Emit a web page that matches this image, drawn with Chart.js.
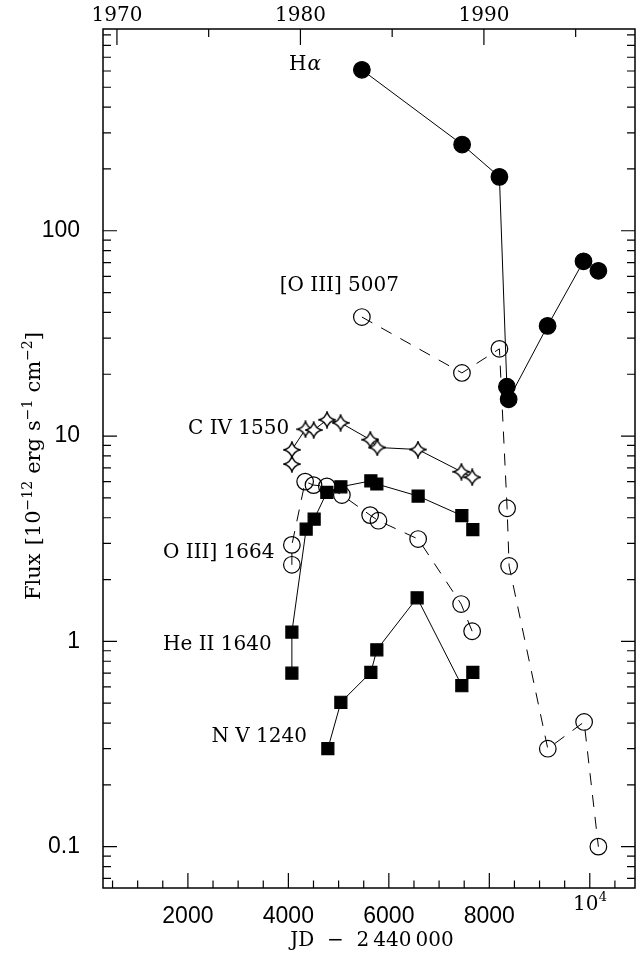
<!DOCTYPE html>
<html><head><meta charset="utf-8">
<script src="https://cdn.jsdelivr.net/npm/chart.js@4.4.0/dist/chart.umd.min.js"></script>
<style>html,body{margin:0;padding:0;background:#fff}canvas{display:block}</style>
</head><body>
<canvas id="c" width="641" height="956"></canvas>
<script>
// ---- data (JD - 2440000, flux in 1e-12 erg s^-1 cm^-2) ----
const haJD    = [5463, 7459, 8201, 8350, 8385, 9160, 9875, 10171];
const haFlux  = [608, 263, 183, 17.4, 15.1, 34.4, 71, 63.8];
const o5007JD   = [5463, 7455, 8201, 8354, 8394, 9164, 9887, 10171];
const o5007Flux = [38, 20.3, 26.6, 4.45, 2.33, 0.30, 0.405, 0.10];
const civJD   = [4070, 4070, 4340, 4505, 4770, 5040, 5630, 5770, 6580, 7445, 7660];
const civFlux = [7.3, 8.57, 10.8, 10.7, 12.0, 11.6, 9.6, 8.8, 8.6, 6.7, 6.3];
const o1664JD   = [4070, 4070, 4334, 4500, 4766, 5065, 5628, 5793, 6583, 7439, 7658];
const o1664Flux = [2.36, 2.95, 6.0, 5.77, 5.69, 5.16, 4.12, 3.87, 3.15, 1.52, 1.12];
const heiiJD   = [4070, 4070, 4354, 4513, 4766, 5045, 5642, 5761, 6583, 7453, 7672];
const heiiFlux = [0.70, 1.11, 3.52, 3.94, 5.32, 5.66, 6.05, 5.84, 5.1, 4.1, 3.5];
const nvJD   = [4786, 5045, 5642, 5761, 6563, 7453, 7672];
const nvFlux = [0.30, 0.505, 0.706, 0.91, 1.63, 0.608, 0.706];

const xTicks = [2000, 4000, 6000, 8000, 10000];
const yTicks = [0.1, 1, 10, 100];
const yearLabels = [1970, 1980, 1990];
const yearTickYears = [1970, 1975, 1980, 1985, 1990, 1995];
const seriesLabels = ['H', '[O III] 5007', 'C IV 1550', 'O III] 1664', 'He II 1640', 'N V 1240'];

function yearToJD(y){ return 587.5 + (y - 1970) * 365.25; }
function pts(xs, ys){ return xs.map((x,i)=>({x:x, y:ys[i]})); }

function makeStar(){
  const s = 18, c = document.createElement('canvas'); c.width = s; c.height = s;
  const g = c.getContext('2d'); const m = 9, r = 8, k = 1.6;
  g.strokeStyle = '#000'; g.lineWidth = 1.3;
  g.beginPath();
  g.moveTo(m, m - r);
  g.quadraticCurveTo(m + k, m - k, m + r, m);
  g.quadraticCurveTo(m + k, m + k, m, m + r);
  g.quadraticCurveTo(m - k, m + k, m - r, m);
  g.quadraticCurveTo(m - k, m - k, m, m - r);
  g.closePath(); g.fillStyle = '#fff'; g.fill(); g.stroke();
  return c;
}
const star = makeStar();

const SERIF = '"DejaVu Serif", serif';
const SANS = '"Liberation Sans", Arial, sans-serif';

const base = {borderColor:'#000', borderWidth:1, tension:0, pointBorderColor:'#000', pointBorderWidth:1.2};
const datasets = [
  Object.assign({}, base, {label:'Ha', data:pts(haJD, haFlux), pointStyle:'circle', pointRadius:8.3, pointBackgroundColor:'#000'}),
  Object.assign({}, base, {label:'OIII5007', data:pts(o5007JD, o5007Flux), borderDash:[12,10], pointStyle:'circle', pointRadius:8.3, pointBackgroundColor:'rgba(0,0,0,0)'}),
  Object.assign({}, base, {label:'CIV', data:pts(civJD, civFlux), pointStyle:star, pointRadius:7}),
  Object.assign({}, base, {label:'OIII1664', data:pts(o1664JD, o1664Flux), borderDash:[12,10], pointStyle:'circle', pointRadius:8.3, pointBackgroundColor:'rgba(0,0,0,0)'}),
  Object.assign({}, base, {label:'HeII', data:pts(heiiJD, heiiFlux), pointStyle:'rect', pointRadius:8.5, pointBackgroundColor:'#000'}),
  Object.assign({}, base, {label:'NV', data:pts(nvJD, nvFlux), pointStyle:'rect', pointRadius:8.5, pointBackgroundColor:'#000'})
];

// rich text: segments drawn along baseline, centred at (0,0) of current transform
function richText(c, segs){
  let w = 0;
  segs.forEach(s => { c.font = s.size + 'px ' + SERIF; s.w = c.measureText(s.t).width; w += s.w + (s.gap || 0); });
  let x = -w / 2;
  c.textAlign = 'left'; c.textBaseline = 'alphabetic';
  segs.forEach(s => { c.font = s.size + 'px ' + SERIF; c.fillText(s.t, x, 7 - (s.rise || 0)); x += s.w + (s.gap || 0); });
}

const decor = {
  id:'decor',
  afterDraw(chart){
    const c = chart.ctx, a = chart.chartArea, sx = chart.scales.x, sy = chart.scales.y;
    c.save();
    c.strokeStyle = '#000'; c.lineWidth = 1.5;
    c.strokeRect(a.left, a.top, a.right - a.left, a.bottom - a.top);
    c.lineWidth = 1.2;
    c.beginPath();
    for (let v = 500; v <= 10500; v += 500) {
      const px = sx.getPixelForValue(v), L = (v % 2000 === 0) ? 15 : 7.5;
      c.moveTo(px, a.bottom); c.lineTo(px, a.bottom - L);
    }
    yearTickYears.forEach(y => {
      const px = sx.getPixelForValue(yearToJD(y)), L = (y % 10 === 0) ? 16 : 8;
      c.moveTo(px, a.top); c.lineTo(px, a.top + L);
    });
    for (let e = -2; e <= 2; e++) {
      for (let k = 1; k <= 9; k++) {
        const v = k * Math.pow(10, e);
        if (v < sy.min || v > sy.max) continue;
        const py = sy.getPixelForValue(v), L = (k === 1) ? 14 : 8;
        c.moveTo(a.left, py); c.lineTo(a.left + L, py);
        c.moveTo(a.right, py); c.lineTo(a.right - L, py);
      }
    }
    c.stroke();

    c.fillStyle = '#000'; c.textBaseline = 'middle';
    const p4 = sx.getPixelForValue(10000);
    c.font = '20px ' + SERIF; c.textAlign = 'center';
    c.fillText('10', p4 - 4, 905);
    c.font = '13px ' + SERIF; c.textAlign = 'left';
    c.fillText('4', p4 + 9, 898);

    c.font = '20px ' + SERIF; c.textAlign = 'left';
    c.fillText(seriesLabels[0], 289, 65);
    const hw = c.measureText(seriesLabels[0]).width;
    c.font = 'italic 20px ' + SERIF;
    c.fillText('\u03b1', 289 + hw + 1, 65);
    c.font = '20px ' + SERIF;
    c.textAlign = 'right';
    c.fillText(seriesLabels[1], 399, 286);
    c.textAlign = 'left';
    c.fillText(seriesLabels[2], 188, 429);
    c.fillText(seriesLabels[3], 163, 553);
    c.fillText(seriesLabels[4], 163, 645);
    c.textAlign = 'right';
    c.fillText(seriesLabels[5], 307, 737);

    c.textAlign = 'center';
    c.fillText('JD  \u2212  2\u2009440\u2009000', 372, 941);

    c.translate(33, 466); c.rotate(-Math.PI/2);
    richText(c, [
      {t:'Flux', size:21, gap:8},
      {t:'[10', size:21},
      {t:'\u221212', size:14, rise:8, gap:7},
      {t:'erg', size:21, gap:7},
      {t:'s', size:21},
      {t:'\u22121', size:14, rise:8, gap:7},
      {t:'cm', size:21},
      {t:'\u22122', size:14, rise:8},
      {t:']', size:21}
    ]);
    c.restore();
  }
};

function noPad(s){ s.paddingTop = 0; s.paddingBottom = 0; s.paddingLeft = 0; s.paddingRight = 0; }

new Chart(document.getElementById('c'), {
  type:'line',
  data:{datasets:datasets},
  plugins:[decor],
  options:{
    responsive:false, animation:false, devicePixelRatio:1,
    layout:{autoPadding:false, padding:{left:3, right:6, top:0, bottom:0}},
    plugins:{legend:{display:false}, tooltip:{enabled:false}},
    scales:{
      x:{type:'linear', position:'bottom', min:310, max:10900,
         grid:{display:false, drawTicks:false}, border:{display:false},
         ticks:{color:'#000', font:{family:SANS, size:23}, padding:15, autoSkip:false, maxRotation:0,
                callback:(v)=> v===10000 ? '' : String(v)},
         afterBuildTicks:(s)=>{ s.ticks = xTicks.map(v=>({value:v})); },
         afterFit:(s)=>{ s.height = 68; noPad(s); }},
      x2:{type:'linear', position:'top', min:310, max:10900,
         grid:{display:false, drawTicks:false}, border:{display:false},
         ticks:{color:'#000', font:{family:SERIF, size:20}, padding:1, autoSkip:false, maxRotation:0,
                callback:(v)=>{ const y = Math.round(1970 + (v - 587.5)/365.25); return String(y); }},
         afterBuildTicks:(s)=>{ s.ticks = yearLabels.map(y=>({value:yearToJD(y)})); },
         afterFit:(s)=>{ s.height = 29; noPad(s); }},
      y:{type:'logarithmic', position:'left', min:0.0629, max:961,
         grid:{display:false, drawTicks:false}, border:{display:false},
         ticks:{color:'#000', font:{family:SANS, size:23}, padding:23, autoSkip:false,
                callback:(v)=> String(v)},
         afterBuildTicks:(s)=>{ s.ticks = yTicks.map(v=>({value:v})); },
         afterFit:(s)=>{ s.width = 100; noPad(s); }}
    }
  }
});
</script>
</body></html>
